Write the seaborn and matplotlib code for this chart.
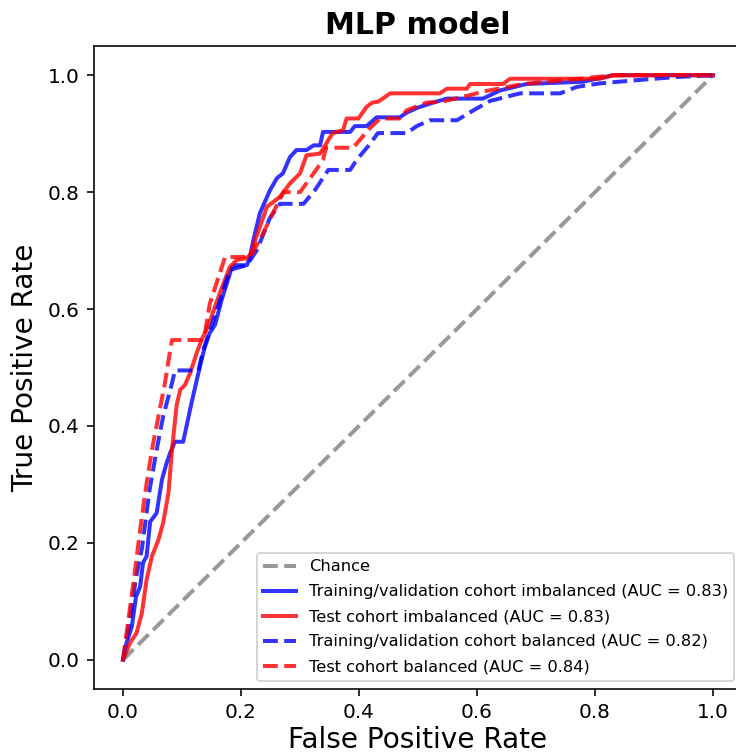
import numpy as np
import pandas as pd
import matplotlib
matplotlib.use("Agg")
import matplotlib.pyplot as plt
import seaborn as sns

# ROC curves of the MLP model (false positive rate, true positive rate)
fpr_train_imb = [0.0, 0.006, 0.015, 0.022, 0.029, 0.034, 0.040, 0.046, 0.057, 0.066, 0.074,
                 0.080, 0.088, 0.102, 0.116, 0.133, 0.139, 0.147, 0.156, 0.167, 0.184, 0.190,
                 0.210, 0.215, 0.221, 0.232, 0.249, 0.261, 0.271, 0.283, 0.294, 0.311, 0.323,
                 0.334, 0.339, 0.385, 0.393, 0.413, 0.430, 0.469, 0.481, 0.498, 0.525, 0.549,
                 0.610, 0.639, 0.684, 0.780, 0.808, 0.831, 1.0]
tpr_train_imb = [0.0, 0.029, 0.057, 0.108, 0.125, 0.166, 0.177, 0.236, 0.251, 0.308, 0.337,
                 0.354, 0.373, 0.373, 0.439, 0.513, 0.536, 0.559, 0.573, 0.615, 0.670, 0.675,
                 0.675, 0.689, 0.718, 0.764, 0.803, 0.824, 0.832, 0.860, 0.872, 0.872, 0.880,
                 0.880, 0.903, 0.903, 0.913, 0.913, 0.928, 0.928, 0.936, 0.944, 0.953, 0.960,
                 0.960, 0.974, 0.985, 0.989, 0.995, 1.0, 1.0]

fpr_test_imb = [0.0, 0.012, 0.023, 0.032, 0.040, 0.049, 0.060, 0.068, 0.077, 0.083, 0.091,
                0.097, 0.105, 0.114, 0.125, 0.133, 0.144, 0.164, 0.181, 0.193, 0.210, 0.218,
                0.224, 0.244, 0.266, 0.283, 0.300, 0.311, 0.334, 0.351, 0.356, 0.373, 0.379,
                0.399, 0.413, 0.422, 0.433, 0.453, 0.537, 0.549, 0.583, 0.588, 0.644, 0.656,
                0.808, 0.831, 1.0]
tpr_test_imb = [0.0, 0.029, 0.046, 0.080, 0.137, 0.177, 0.205, 0.234, 0.285, 0.359, 0.436,
                0.462, 0.470, 0.491, 0.525, 0.547, 0.570, 0.627, 0.672, 0.684, 0.687, 0.696,
                0.718, 0.775, 0.792, 0.815, 0.832, 0.863, 0.866, 0.894, 0.901, 0.906, 0.926,
                0.926, 0.946, 0.953, 0.955, 0.969, 0.969, 0.977, 0.977, 0.985, 0.985, 0.994,
                0.994, 1.0, 1.0]

fpr_train_bal = [0.0, 0.012, 0.022, 0.032, 0.045, 0.057, 0.068, 0.083, 0.088, 0.128, 0.136,
                 0.159, 0.181, 0.210, 0.227, 0.249, 0.266, 0.306, 0.325, 0.348, 0.385, 0.396,
                 0.419, 0.432, 0.481, 0.498, 0.520, 0.566, 0.594, 0.622, 0.673, 0.741, 0.769,
                 0.808, 0.864, 0.938, 1.0]
tpr_train_bal = [0.0, 0.070, 0.140, 0.190, 0.290, 0.359, 0.416, 0.473, 0.495, 0.495, 0.530,
                 0.598, 0.667, 0.675, 0.701, 0.756, 0.780, 0.780, 0.803, 0.838, 0.838, 0.855,
                 0.883, 0.901, 0.901, 0.913, 0.923, 0.923, 0.940, 0.956, 0.969, 0.969, 0.980,
                 0.986, 0.991, 0.997, 1.0]

fpr_test_bal = [0.0, 0.0175, 0.032, 0.040, 0.049, 0.060, 0.071, 0.080, 0.083, 0.133, 0.139,
                0.147, 0.164, 0.173, 0.215, 0.232, 0.254, 0.266, 0.272, 0.300, 0.323, 0.339,
                0.344, 0.390, 0.419, 0.436, 0.469, 0.481, 0.514, 0.542, 0.588, 0.610, 0.678,
                0.775, 0.831, 1.0]
tpr_test_bal = [0.0, 0.131, 0.245, 0.302, 0.359, 0.416, 0.473, 0.530, 0.547, 0.547, 0.559,
                0.609, 0.661, 0.689, 0.689, 0.718, 0.764, 0.788, 0.800, 0.800, 0.832, 0.855,
                0.876, 0.876, 0.910, 0.926, 0.926, 0.940, 0.953, 0.955, 0.966, 0.972, 0.985,
                0.994, 1.0, 1.0]

chance = [0.0, 1.0]

series = [
    ("Training/validation cohort imbalanced", 0.83, fpr_train_imb, tpr_train_imb, "blue", "-"),
    ("Test cohort imbalanced", 0.83, fpr_test_imb, tpr_test_imb, "red", "-"),
    ("Training/validation cohort balanced", 0.82, fpr_train_bal, tpr_train_bal, "blue", "--"),
    ("Test cohort balanced", 0.84, fpr_test_bal, tpr_test_bal, "red", "--"),
]

fig = plt.figure(figsize=(736 / 144, 756 / 144), dpi=144)
ax = fig.add_axes([93.5 / 736, 67 / 756, 649 / 736, 643 / 756])

sns.lineplot(x=chance, y=chance, ax=ax, color="gray", linestyle="--", linewidth=2,
             alpha=0.8, label="Chance", estimator=None, sort=False)

for name, auc, fpr, tpr, color, ls in series:
    df = pd.DataFrame({"fpr": fpr, "tpr": tpr})
    sns.lineplot(data=df, x="fpr", y="tpr", ax=ax, color=color, linestyle=ls,
                 linewidth=2, alpha=0.8, estimator=None, sort=False,
                 label=f"{name} (AUC = {auc:.2f})")

ax.set_xlim(-0.05, 1.05)
ax.set_ylim(-0.05, 1.05)
ax.set_xticks([0.0, 0.2, 0.4, 0.6, 0.8, 1.0])
ax.set_yticks([0.0, 0.2, 0.4, 0.6, 0.8, 1.0])
ax.set_xlabel("False Positive Rate", fontsize=14, labelpad=2)
ax.set_ylabel("True Positive Rate", fontsize=14)
ax.set_title("MLP model", fontsize=15, fontweight="bold")
ax.legend(loc="lower right", fontsize=8.1, labelspacing=0.62)

fig.savefig("out.png", dpi=144)
